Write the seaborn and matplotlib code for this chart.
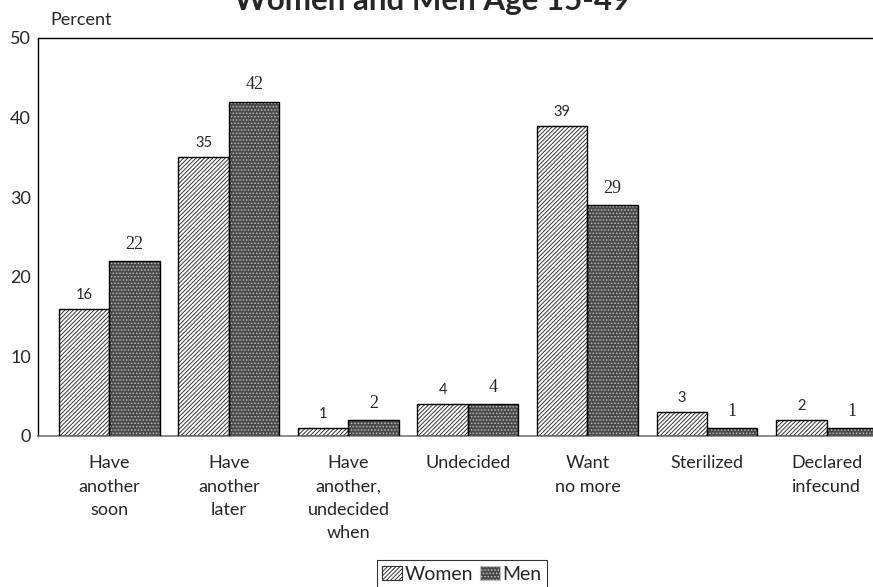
import matplotlib
matplotlib.use("Agg")
import matplotlib.pyplot as plt
import seaborn as sns
import pandas as pd
from matplotlib.patches import Rectangle, Patch

categories = ["Have\nanother\nsoon", "Have\nanother\nlater", "Have\nanother,\nundecided\nwhen",
              "Undecided", "Want\nno more", "Sterilized", "Declared\ninfecund"]
women = [16, 35, 1, 4, 39, 3, 2]
men = [22, 42, 2, 4, 29, 1, 1]
series = ["Women", "Men"]
yticks = [0, 10, 20, 30, 40, 50]

sns.set_style("white")
plt.rcParams['font.family'] = ['Lato', 'DejaVu Sans']
plt.rcParams['hatch.linewidth'] = 0.7

df = pd.DataFrame({
    "cat": categories * 2,
    "sex": ["Women"] * len(categories) + ["Men"] * len(categories),
    "val": women + men,
})

fig = plt.figure(figsize=(8.73, 5.87), dpi=100)
ax = fig.add_axes([38/873, 1-436/587, 1-38/873, (436-38)/587])

sns.barplot(data=df, x="cat", y="val", hue="sex", order=categories, hue_order=series,
            palette=["white", "#4a4a4a"], width=0.845, gap=0, legend=False, ax=ax,
            linewidth=0, errorbar=None, saturation=1)

hatches = {"Women": "////////", "Men": "....."}
hcolors = {"Women": "#333333", "Men": "#bdbdbd"}
n = len(categories)
bars = [p for p in ax.patches if isinstance(p, Rectangle)]
for i, p in enumerate(bars[:2*n]):
    s = series[i // n]
    p.set_hatch(hatches[s])
    p.set_edgecolor(hcolors[s])
    p.set_linewidth(0)
    ax.add_patch(Rectangle((p.get_x(), p.get_y()), p.get_width(), p.get_height(),
                           fill=False, edgecolor="black", linewidth=1.0, zorder=3))

# value labels
for i, cont in enumerate(ax.containers):
    if series[i] == "Women":
        ax.bar_label(cont, labels=[str(v) for v in women], padding=5, fontsize=10.5,
                     family=['Lato'])
    else:
        ax.bar_label(cont, labels=[str(v) for v in men], padding=6, fontsize=13,
                     family=['Liberation Serif'])

ax.set_xlim(-0.598, n - 1 + 0.389)
ax.set_ylim(0, 50)
ax.set_yticks(yticks)
ax.set_yticklabels([str(t) for t in yticks], fontsize=13)
ax.tick_params(axis='y', length=0, pad=5)
ax.tick_params(axis='x', length=0, pad=14)
for lab in ax.get_xticklabels():
    lab.set_fontsize(13)
    lab.set_linespacing(1.55)
    lab.set_verticalalignment('top')
ax.set_xlabel("")
ax.set_ylabel("")

for side in ["left", "top"]:
    ax.spines[side].set_visible(True)
    ax.spines[side].set_color("black")
    ax.spines[side].set_linewidth(1.0)
ax.spines["bottom"].set_color("#777777")
ax.spines["bottom"].set_linewidth(1.2)
ax.spines["right"].set_visible(False)

fig.text(50/873, 1-20/587, "Percent", fontsize=13, va='center', ha='left')
fig.text(432/873, 1-10/587, "Women and Men Age 15-49", fontsize=22.5, fontweight='bold',
         ha='center', va='baseline')

handles = [Patch(facecolor="white", edgecolor="#333333", hatch="////////", linewidth=0.8),
           Patch(facecolor="#4a4a4a", edgecolor="#bdbdbd", hatch=".....", linewidth=0.8)]
leg = fig.legend(handles, series, loc='upper center', bbox_to_anchor=(462/873, 1-560/587),
                 ncol=2, frameon=True, fancybox=False, fontsize=14,
                 handlelength=1.0, handleheight=0.75, handletextpad=0.15,
                 columnspacing=0.35, borderpad=0.3, borderaxespad=0)
leg.get_frame().set_edgecolor("black")
leg.get_frame().set_linewidth(0.8)

fig.savefig("out.png", dpi=100)
